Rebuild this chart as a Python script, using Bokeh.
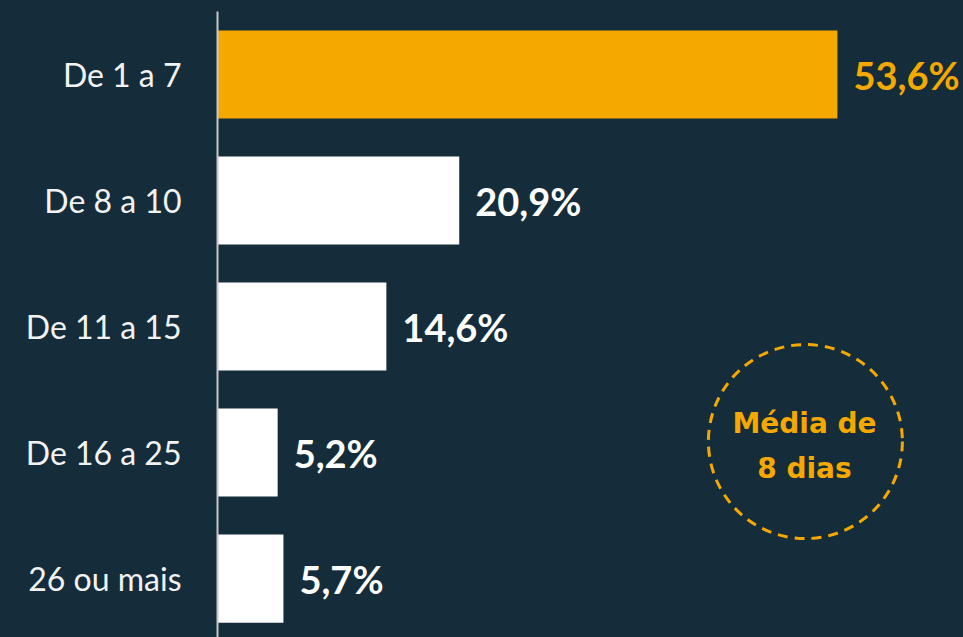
from bokeh.plotting import figure
from bokeh.models import Range1d, FixedTicker
from bokeh.core.properties import value
from bokeh.embed import file_html
from bokeh.resources import INLINE

categories = ["De 1 a 7", "De 8 a 10", "De 11 a 15", "De 16 a 25", "26 ou mais"]
shares = [53.6, 20.9, 14.6, 5.2, 5.7]
note_text = "Média de\n8 dias"

BG = "#152d3b"
ORANGE = "#f5a800"

idx = list(range(len(categories)))
colors = [ORANGE if i == 0 else "#ffffff" for i in idx]
labels = [f"{v:.1f}%".replace(".", ",") for v in shares]

p = figure(width=963, height=637, output_backend="svg", toolbar_location=None,
           x_range=Range1d(0, 64.5), y_range=Range1d(4.468, -0.5),
           min_border_left=217, min_border_top=11, min_border_bottom=0, min_border_right=0,
           background_fill_color=BG, border_fill_color=BG, outline_line_color=None)

p.hbar(y=idx, left=0, right=shares, height=0.7, fill_color=colors, line_color=None)

p.text(x=shares, y=idx, text=labels, x_offset=16, text_baseline="middle", text_align="left",
       text_color=colors, text_font=value("Lato"), text_font_style="bold", text_font_size="38px")

# annotation: average
p.scatter(x=[50.83], y=[2.913], size=194, marker="circle", fill_color=None,
          line_color=ORANGE, line_width=3, line_dash="10 7")
p.text(x=[50.75], y=[2.95], text=[note_text], text_align="center", text_baseline="middle",
       text_color=ORANGE, text_font=value("DejaVu Sans"), text_font_style="bold",
       text_font_size="28px", text_line_height=1.35)

p.xaxis.visible = False
p.xgrid.visible = False
p.ygrid.visible = False

ya = p.yaxis[0]
ya.ticker = FixedTicker(ticks=idx)
ya.major_label_overrides = {i: c for i, c in zip(idx, categories)}
ya.major_label_text_font = "Lato"
ya.major_label_text_font_size = "32px"
ya.major_label_text_color = "#f2f2f2"
ya.major_label_standoff = 30
ya.major_tick_line_color = None
ya.minor_tick_line_color = None
ya.axis_line_color = "#c8c8c8"
ya.axis_line_width = 2

html = file_html(p, INLINE)
html = html.replace("<head>", "<head><style>html,body{background:%s;overflow:hidden}</style>" % BG, 1)
open("out.html", "w").write(html)
